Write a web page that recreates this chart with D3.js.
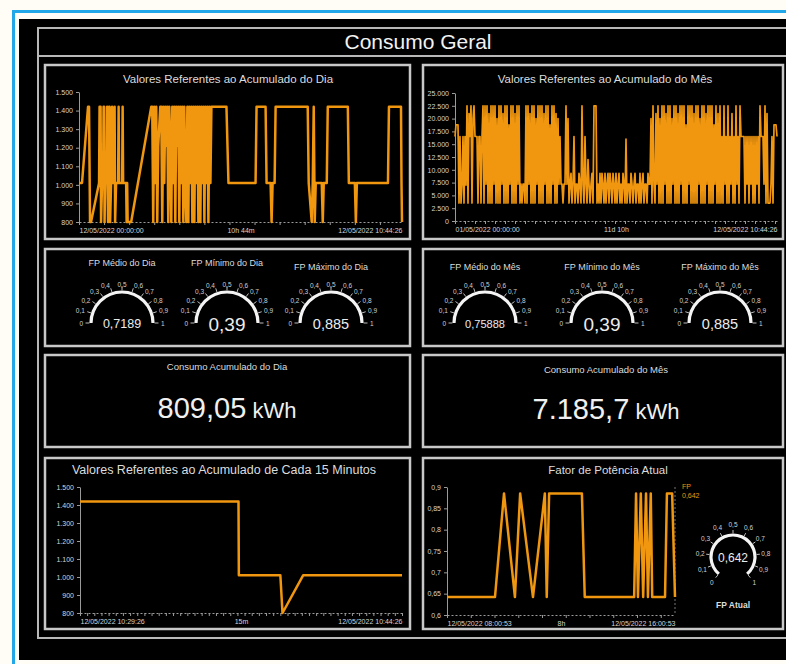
<!DOCTYPE html>
<html><head><meta charset="utf-8">
<script src="https://cdn.jsdelivr.net/npm/d3@7"></script>
<style>body{margin:0;background:#fffdf6;} svg{display:block;}</style>
</head><body>
<script>
// ---------------- DATA ----------------
const dayTimes = [0,6,18,20,22,24,40,41,43,44,46,48,49,50,51,52,55,56,57,58,60,61,62,64,66,67,70,71,72,74,78,79,80,86,87,88,94,95,96,97,104,144,146,148,150,152,154,156,158,162,164,166,168,170,172,174,176,178,180,182,184,186,188,190,192,194,196,198,200,202,204,206,208,210,212,214,216,218,220,222,224,226,228,230,232,234,236,238,240,242,244,246,248,250,252,254,256,258,260,262,264,294,298,352,354,372,374,382,384,386,390,392,456,458,464,466,468,470,472,484,486,488,494,496,536,538,550,552,554,616,618,642,643,644];
const dayValues = [1010,1010,1420,1420,800,800,1010,1420,1420,800,1010,1010,1420,1420,800,1010,1010,1420,1010,800,1420,1420,800,1010,1420,1010,1010,1420,800,1010,1010,1420,1010,1010,1420,1010,1010,800,1010,800,800,1420,1420,800,1420,1010,1420,800,1210,1420,1420,800,1420,1010,1420,1210,1420,800,1420,1210,800,1420,1010,1420,800,1420,1210,1420,800,1420,1010,1420,800,1420,1010,800,1420,800,1420,1010,1420,800,1420,800,1420,1010,1420,800,1420,800,1420,1010,1420,800,1420,1010,1420,800,1420,1010,1420,1420,1010,1010,1420,1420,1010,1010,800,1010,1010,1420,1420,1010,800,1010,1420,800,1010,1010,800,1010,1010,1420,1420,1010,1010,800,1010,1010,1420,1420,1010,800];
const dayYTicks = [800,900,1000,1100,1200,1300,1400,1500];
const dayXTicks = [0,322,644];
const dayXLabels = ["12/05/2022 00:00:00","10h 44m","12/05/2022 10:44:26"];

const monthValues = [
16500,18800,18800,18800,
3500,16500,3500,7000,16500,3500,16500,7000,
22500,3500,21000,16500,22500,3500,20000,22500,16500,
16500,16500,3500,16500,16500,3500,16500,22500,
3500,22500,7200,22500,3500,21000,3500,22500,3500,22500,7200,22500,3500,20000,3500,22500,3500,22500,7200,21000,3500,22500,3500,22500,3500,18800,7200,22500,3500,22500,3500,21000,3500,22500,7200,22500,3500,
7200,3500,7200,7200,3500,
22500,3500,22500,7200,21000,3500,22500,3500,22500,3500,20000,7200,22500,3500,22500,3500,22500,3500,21000,7200,22500,3500,22500,3500,18800,3500,22500,7200,22500,3500,21000,3500,20000,7200,16500,
7200,7200,3500,7200,7200,
22500,7200,20000,3500,7200,9300,3500,7200,16500,3500,7200,7200,3500,9300,7200,3500,22500,7200,3500,16500,7200,3500,12000,7200,3500,7200,9300,3500,22500,22500,22500,3500,
7200,3500,9300,3500,9300,7200,3500,9300,3500,7200,9300,3500,9300,7200,3500,9300,7200,3500,9300,3500,7200,9300,3500,7200,3500,9300,7200,3500,
16000,3500,7200,7200,3500,9300,7200,3500,7200,9300,3500,7200,7200,3500,9300,3500,7200,9300,3500,7200,7200,3500,9300,7200,7200,
20000,3500,22500,7200,3500,21000,7200,22500,3500,20000,
3500,22500,3500,22500,7200,21000,3500,22500,3500,22500,3500,20000,7200,22500,3500,22500,3500,21000,3500,22500,7200,22500,3500,22500,3500,18800,3500,22500,7200,22500,3500,22500,3500,21000,3500,22500,3500,22500,7200,20000,3500,22500,3500,22500,3500,21000,7200,22500,3500,22500,3500,22500,3500,18800,7200,22500,3500,21000,3500,22500,
3500,16500,3500,22500,7200,16500,3500,22500,3500,16500,7200,21000,3500,16500,3500,22500,7200,16500,3500,22500,
16500,16500,16500,16500,3500,16500,7200,16500,3500,16500,7200,16500,3500,16500,3500,16500,7200,16500,3500,22500,
16500,16500,16500,7200,22500,3500,21000,
3500,3500,3500,7200,16500,3500,18800,18800,18800,16500];
const monthYTicks = [0,2500,5000,7500,10000,12500,15000,17500,20000,22500,25000];
const monthXLabels = ["01/05/2022 00:00:00","11d 10h","12/05/2022 10:44:26"];

const min15Times = [0,443,444,560,566,624,900];
const min15Values = [1420,1420,1010,1010,800,1010,1010];
const min15YTicks = [800,900,1000,1100,1200,1300,1400,1500];
const min15XTicks = [0,450,900];
const min15XLabels = ["12/05/2022 10:29:26","15m","12/05/2022 10:44:26"];

const fpTimes = [0,101,120,143,154,181,206,210,215,284,290,394,398,402,408,413,419,423,429,432,459,463,474,480];
const fpValues = [0.642,0.642,0.885,0.642,0.885,0.642,0.885,0.642,0.885,0.885,0.642,0.642,0.885,0.642,0.885,0.642,0.885,0.642,0.885,0.642,0.642,0.885,0.885,0.642];
const fpYTicks = [0.6,0.65,0.7,0.75,0.8,0.85,0.9];
const fpXTicks = [0,240,480];
const fpXLabels = ["12/05/2022 08:00:53","8h","12/05/2022 16:00:53"];

const gaugeTicks = [0,0.1,0.2,0.3,0.4,0.5,0.6,0.7,0.8,0.9,1];
const dayGaugeLabels = ["FP Médio do Dia","FP Mínimo do Dia","FP Máximo do Dia"];
const dayGaugeValues = [0.7189,0.39,0.885];
const monthGaugeLabels = ["FP Médio do Mês","FP Mínimo do Mês","FP Máximo do Mês"];
const monthGaugeValues = [0.75888,0.39,0.885];
const fpAtual = 0.642;

const kpiLabels = ["Consumo Acumulado do Dia","Consumo Acumulado do Mês"];
const kpiValues = [809.05, 7185.7];
const kpiUnit = "kWh";

// ---------------- DRAW ----------------
const W = 786, H = 664;
const ORANGE = '#f0960f';
const FONT = '"Liberation Sans", Arial, sans-serif';
const loc = d3.formatLocale({decimal:",", thousands:".", grouping:[3], currency:["R$",""]});
const fmtInt = loc.format(",d");
const fmtComma = v => String(v).replace('.', ',');

const svg = d3.select('body').append('svg').attr('width', W).attr('height', H).style('font-family', FONT);

svg.append('rect').attr('width', W).attr('height', H).attr('fill', '#fffdf6');
svg.append('rect').attr('x', 13.5).attr('y', 11.5).attr('width', W).attr('height', H)
  .attr('fill', 'none').attr('stroke', '#22a7e8').attr('stroke-width', 3);
svg.append('rect').attr('x', 19).attr('y', 19).attr('width', W - 19).attr('height', 641).attr('fill', '#000');

// outer frame
svg.append('rect').attr('x', 38).attr('y', 28).attr('width', 770).attr('height', 610)
  .attr('fill', 'none').attr('stroke', '#b8b8b8').attr('stroke-width', 2);
svg.append('line').attr('x1', 38).attr('x2', W).attr('y1', 56).attr('y2', 56)
  .attr('stroke', '#b8b8b8').attr('stroke-width', 2);

function txt(x, y, s, size, o = {}) {
  return svg.append('text').attr('x', x).attr('y', y).text(s)
    .attr('fill', o.fill || '#e6e6e6').attr('font-size', size)
    .attr('text-anchor', o.anchor || 'middle')
    .attr('font-weight', o.weight || 'normal');
}
txt(418, 49, "Consumo Geral", 21, {fill: '#f2f2f2'});

function panel(x, y, w, h) {
  svg.append('rect').attr('x', x).attr('y', y).attr('width', w).attr('height', h)
    .attr('fill', 'none').attr('stroke', '#c8c8c8').attr('stroke-width', 2.5);
}
panel(45, 65, 365, 174);
panel(423, 65, 360, 174);
panel(45, 249, 365, 97);
panel(423, 249, 360, 97);
panel(45, 355, 365, 92);
panel(423, 355, 360, 92);
panel(45, 458, 365, 171);
panel(423, 458, 360, 171);

function styleAxis(g) {
  g.selectAll('text').attr('fill', '#d6d6d6').attr('font-size', 7).attr('font-family', FONT);
  g.selectAll('line').attr('stroke', '#9a9a9a');
  g.select('.domain').attr('stroke', '#9a9a9a');
}

function lineChart(o) {
  const x = d3.scaleLinear().domain(o.xDomain).range([o.x0, o.x1]);
  const y = d3.scaleLinear().domain(o.yDomain).range([o.yb, o.yt]);
  const ya = svg.append('g').attr('transform', `translate(${o.x0},0)`)
    .call(d3.axisLeft(y).tickValues(o.yTicks).tickFormat(o.yFmt).tickSize(3).tickSizeOuter(0).tickPadding(3));
  styleAxis(ya);
  const xm = svg.append('g').attr('transform', `translate(0,${o.yb})`)
    .call(d3.axisBottom(x).ticks(o.minor).tickSize(3).tickSizeOuter(0).tickFormat(''));
  styleAxis(xm);
  xm.select('.domain').attr('stroke-dasharray', '2,2');
  const xl = svg.append('g').attr('transform', `translate(0,${o.yb})`)
    .call(d3.axisBottom(x).tickValues(o.xTicks).tickFormat((d, i) => o.xLabels[i]).tickSize(0).tickPadding(6));
  styleAxis(xl);
  xl.select('.domain').remove();
  xl.selectAll('text').attr('text-anchor', (d, i) => i === 0 ? 'start' : (i === o.xLabels.length - 1 ? 'end' : 'middle'));
  const pts = o.values.map((v, i) => [o.times ? o.times[i] : i, v]);
  svg.append('path').datum(pts)
    .attr('d', d3.line().x(d => x(d[0])).y(d => y(d[1])))
    .attr('fill', 'none').attr('stroke', ORANGE).attr('stroke-width', o.sw || 2.5)
    .attr('stroke-linejoin', 'round');
  return {x, y};
}

// Chart 1: daily
txt(228, 83, "Valores Referentes ao Acumulado do Dia", 11.5, {fill: '#dcdcdc'});
lineChart({x0: 79, x1: 402, yt: 92, yb: 222, xDomain: [0, 644], yDomain: [800, 1500],
  yTicks: dayYTicks, yFmt: fmtInt, minor: 14, xTicks: dayXTicks, xLabels: dayXLabels,
  times: dayTimes, values: dayValues, sw: 2.5});

// Chart 2: monthly
txt(605, 83, "Valores Referentes ao Acumulado do Mês", 11.5, {fill: '#dcdcdc'});
lineChart({x0: 455, x1: 777, yt: 93, yb: 221, xDomain: [0, monthValues.length - 1], yDomain: [0, 25000],
  yTicks: monthYTicks, yFmt: fmtInt, minor: 30, xTicks: [0, (monthValues.length - 1) / 2, monthValues.length - 1],
  xLabels: monthXLabels, values: monthValues, sw: 1.7});

// Semicircle gauges
function semiGauge(cx, cy, r, value, label, ly, fs) {
  const ang = d3.scaleLinear().domain([0, 1]).range([-Math.PI / 2, Math.PI / 2]);
  svg.append('path').attr('transform', `translate(${cx},${cy})`)
    .attr('d', d3.arc()({innerRadius: r - 1.6, outerRadius: r + 1.6, startAngle: -Math.PI / 2, endAngle: Math.PI / 2}))
    .attr('fill', '#f4f4f4');
  gaugeTicks.forEach(t => {
    const a = ang(t), s = Math.sin(a), c = Math.cos(a);
    svg.append('line').attr('x1', cx + s * (r + 1.6)).attr('y1', cy - c * (r + 1.6))
      .attr('x2', cx + s * (r + 5.5)).attr('y2', cy - c * (r + 5.5))
      .attr('stroke', '#bdbdbd').attr('stroke-width', 1);
    svg.append('text').attr('x', cx + s * (r + 8)).attr('y', cy - c * (r + 8))
      .attr('text-anchor', s < -0.3 ? 'end' : (s > 0.3 ? 'start' : 'middle'))
      .attr('dominant-baseline', 'central').attr('font-size', 6.5).attr('fill', '#d0d0d0')
      .text(fmtComma(t));
  });
  txt(cx, ly, label, 9, {fill: '#dcdcdc'});
  svg.append('text').attr('x', cx).attr('y', cy + 1).attr('text-anchor', 'middle')
    .attr('dominant-baseline', 'central').attr('font-size', fs).attr('fill', '#ececec')
    .text(fmtComma(value));
}
const valSizes = [12.5, 19, 14.5];
[122, 227, 331].forEach((cx, i) => semiGauge(cx, 323, 31, dayGaugeValues[i], dayGaugeLabels[i], i === 2 ? 270 : 266, valSizes[i]));
const mValSizes = [11, 19, 14.5];
[485, 602, 720].forEach((cx, i) => semiGauge(cx, 323, 31, monthGaugeValues[i], monthGaugeLabels[i], 270, mValSizes[i]));

// KPIs
function kpi(cx, ly, vy, label, value) {
  txt(cx, ly, label, 9.5, {fill: '#dcdcdc'});
  const t = svg.append('text').attr('x', cx).attr('y', vy).attr('text-anchor', 'middle').attr('fill', '#f0f0f0');
  t.append('tspan').attr('font-size', 29).text(loc.format(",")(value));
  t.append('tspan').attr('font-size', 22).text(" " + kpiUnit);
}
kpi(227, 370, 418, kpiLabels[0], kpiValues[0]);
kpi(606, 373, 419, kpiLabels[1], kpiValues[1]);

// Chart 3: 15 min
txt(224, 474, "Valores Referentes ao Acumulado de Cada 15 Minutos", 12.5, {fill: '#dcdcdc'});
lineChart({x0: 80, x1: 402, yt: 487, yb: 613, xDomain: [0, 900], yDomain: [800, 1500],
  yTicks: min15YTicks, yFmt: fmtInt, minor: 30, xTicks: min15XTicks, xLabels: min15XLabels,
  times: min15Times, values: min15Values, sw: 2.5});

// Chart 4: FP atual
txt(608, 474, "Fator de Potência Atual", 11.5, {fill: '#dcdcdc'});
svg.append('line').attr('x1', 675).attr('x2', 675).attr('y1', 487).attr('y2', 615)
  .attr('stroke', '#777').attr('stroke-dasharray', '2,2');
lineChart({x0: 447, x1: 675, yt: 487, yb: 615, xDomain: [0, 480], yDomain: [0.6, 0.9],
  yTicks: fpYTicks, yFmt: fmtComma, minor: 8, xTicks: fpXTicks, xLabels: fpXLabels,
  times: fpTimes, values: fpValues, sw: 2.5});
txt(682, 489, "FP", 7, {fill: ORANGE, anchor: 'start'});
txt(682, 498, fmtComma(fpAtual), 7, {fill: ORANGE, anchor: 'start'});

// FP Atual gauge (270°)
(function () {
  const cx = 733, cy = 557, r = 22;
  const span = 140 * Math.PI / 180;
  const ang = d3.scaleLinear().domain([0, 1]).range([-span, span]);
  svg.append('path').attr('transform', `translate(${cx},${cy})`)
    .attr('d', d3.arc()({innerRadius: r - 1.6, outerRadius: r + 1.6, startAngle: -span, endAngle: span}))
    .attr('fill', '#f4f4f4');
  gaugeTicks.forEach(t => {
    const a = ang(t), s = Math.sin(a), c = Math.cos(a);
    svg.append('line').attr('x1', cx + s * (r + 1.6)).attr('y1', cy - c * (r + 1.6))
      .attr('x2', cx + s * (r + 5)).attr('y2', cy - c * (r + 5))
      .attr('stroke', '#bdbdbd').attr('stroke-width', 1);
    svg.append('text').attr('x', cx + s * (r + 11)).attr('y', cy - c * (r + 11))
      .attr('text-anchor', 'middle').attr('dominant-baseline', 'central')
      .attr('font-size', 6.5).attr('fill', '#d0d0d0').text(fmtComma(t));
  });
  svg.append('text').attr('x', cx).attr('y', cy + 1).attr('text-anchor', 'middle')
    .attr('dominant-baseline', 'central').attr('font-size', 12).attr('fill', '#ececec')
    .text(fmtComma(fpAtual));
  txt(cx, 608, "FP Atual", 8.5, {fill: '#dcdcdc', weight: 'bold'});
})();
</script>
</body></html>
